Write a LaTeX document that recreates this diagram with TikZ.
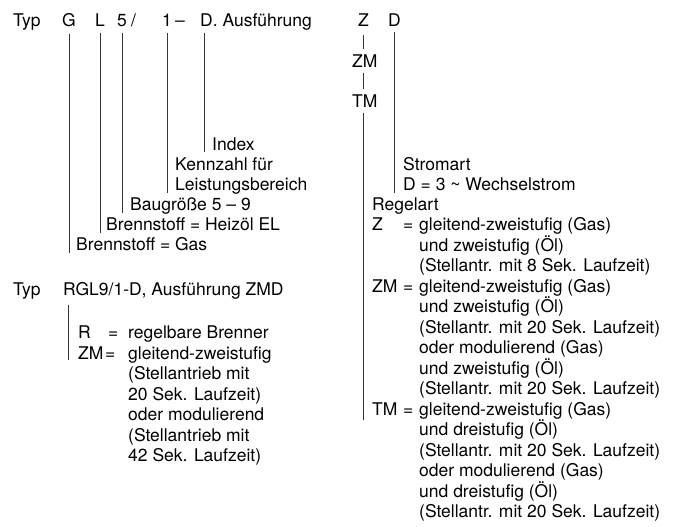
\documentclass[tikz,border=0pt]{standalone}
\usepackage{fontspec}
\setmainfont{TeX Gyre Heros}
\usetikzlibrary{calc}

\begin{document}
\begin{tikzpicture}[x=1pt,y=-1pt,
  every node/.style={anchor=base west,inner sep=0pt,font=\fontsize{17.5}{20.5}\selectfont},
  lead/.style={line width=0.8pt,black!80}]
\useasboundingbox (0,0) rectangle (675,527);
% Kopfzeile
\node (typA) at (13,27) {Typ};
\node (tG) at (62,27) {G}; \node (tL) at (95,27) {L};
\node (t5) at (117,27) {5}; \node (sl) at (131,27) {/};
\node (t1) at (162,27) {1}; \node (da) at (175,27) {--};
\node (tD) at (200,27) {D. Ausführung};
\node (tZ) at (357.8,27) {Z}; \node (tDD) at (388,27) {D};
\node (tZM) at (352,67) {ZM}; \node (tTM) at (352,107) {TM};
% Erklaerungen links
\node (lIdx) at (212,150) {Index};
\node (lKz) at (175,170) {Kennzahl für};
\node (lLb) at (175,190) {Leistungsbereich};
\node (lBg) at (130,210) {Baugröße 5 -- 9};
\node (lHz) at (106,230) {Brennstoff = Heizöl EL};
\node (lGas) at (76,250) {Brennstoff = Gas};
\draw[lead] ($(tG.south)+(0,6)$) -- ($(tG.south |- lGas.base)+(0,3)$);
\draw[lead] ($(tL.south)+(0,6)$) -- ($(tL.south |- lHz.base)+(0,3)$);
\draw[lead] ($(t5.south)+(0,6)$) -- ($(t5.south |- lBg.base)+(0,3)$);
\draw[lead] ($(t1.south)+(0,6)$) -- ($(t1.south |- lLb.base)+(0,3)$);
\draw[lead] ($(tD.base west)+(4,6)$) -- ($(tD.base west |- lIdx.base)+(4,2)$);
% Erklaerungen rechts
\node (lSa) at (403,170) {Stromart};
\node (lWs) at (403,190) {D = 3 \textasciitilde\ Wechselstrom};
\node (lRa) at (372,210) {Regelart};
\node (lZ) at (372,230.5) {Z};   \node (eZ) at (403,230.5) {=};
\node (lZM) at (372,292) {ZM};   \node (eZM) at (403,292) {=};
\node (lTM) at (372,415) {TM};   \node (eTM) at (403,415) {=};
\foreach \t [count=\i from 0] in {{gleitend-zweistufig (Gas)},{und zweistufig (Öl)},
    {(Stellantr. mit 8 Sek. Laufzeit)},{gleitend-zweistufig (Gas)},{und zweistufig (Öl)},
    {(Stellantr. mit 20 Sek. Laufzeit)},{oder modulierend (Gas)},{und zweistufig (Öl)},
    {(Stellantr. mit 20 Sek. Laufzeit)},{gleitend-zweistufig (Gas)},{und dreistufig (Öl)},
    {(Stellantr. mit 20 Sek. Laufzeit)},{oder modulierend (Gas)},{und dreistufig (Öl)},
    {(Stellantr. mit 20 Sek. Laufzeit)}}
  \node (r\i) at (419,230.5+20.5*\i) {\t};
\draw[lead] ($(tDD.south)+(0,5)$) -- ($(tDD.south |- lWs.base)+(0,3)$);
\draw[lead] ($(tZ.south)+(0,8)$) -- ($(tZ.south |- tZM.north)+(0,-5)$);
\draw[lead] ($(tZ.south |- tZM.south)+(0,6)$) -- ($(tZ.south |- tTM.north)+(0,-5)$);
\draw[lead] ($(tZ.south |- tTM.south)+(0,6)$) -- ($(tZ.south |- lTM.base)+(0,5)$);
% Beispiel
\node (typB) at (13,295) {Typ};
\node (rgl) at (63,295) {RGL9/1-D, Ausführung ZMD};
\node (lR) at (78,338.5) {R};    \node (eR) at (108,338.5) {=};
\node (lZMb) at (78,359) {ZM};   \node (eZMb) at (105,359) {=};
\foreach \t [count=\i from 0] in {{regelbare Brenner},{gleitend-zweistufig},{(Stellantrieb mit},
    {20 Sek. Laufzeit)},{oder modulierend},{(Stellantrieb mit},{42 Sek. Laufzeit)}}
  \node (b\i) at (128,338.5+20.5*\i) {\t};
\draw[lead] ($(rgl.base west)+(5,10)$) -- ($(rgl.base west |- lZMb.base)+(5,1)$);
\end{tikzpicture}
\end{document}
